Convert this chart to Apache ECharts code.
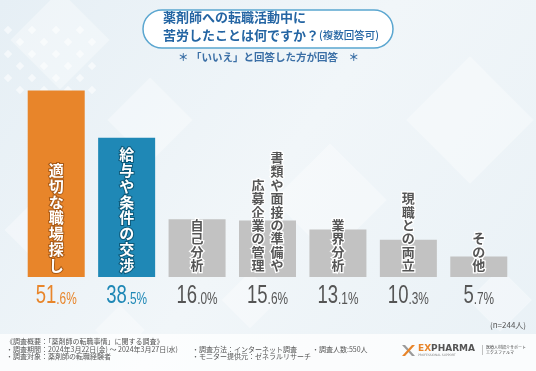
<!DOCTYPE html>
<html><head><meta charset="utf-8">
<script src="https://cdn.jsdelivr.net/npm/echarts@6/dist/echarts.min.js"></script>
<style>html,body{margin:0;padding:0;background:#eef3f7;}#c{width:536px;height:371px;}</style>
</head><body><div id="c"></div>
<script>
const categories = ['適切な職場探し','給与や条件の交渉','自己分析','書類や面接の準備や応募企業の管理','業界分析','現職との両立','その他'];
const labelColumns = [['適切な職場探し'],['給与や条件の交渉'],['自己分析'],['書類や面接の準備や','応募企業の管理'],['業界分析'],['現職との両立'],['その他']];
const values = [51.6,38.5,16.0,15.6,13.1,10.3,5.7];
const sampleSize = '(n=244人)';

const kinds = ['o','b','g','g','g','g','g'];
const barColor = {o:'#e8852a', b:'#1f88b6', g:'#c2c2c2'};
const textBorder = {o:'#a85a17', b:'#0d5878', g:'#ffffff'};
const valColor = {o:'#e8852a', b:'#1f88b6', g:'#555555'};

function vertical(cols){
  const n = Math.max(...cols.map(c=>c.length));
  const lines = [];
  for(let i=0;i<n;i++){
    const parts = [];
    for(let j=cols.length-1;j>=0;j--){
      const c = cols[j]; const idx = i-(n-c.length);
      parts.push(idx<0?'　':c[idx]);
    }
    lines.push(parts.join('  '));
  }
  return lines.join('\n');
}

const data = values.map((v,i)=>{
  const k = kinds[i];
  const big = k!=='g';
  return {
    value: v,
    itemStyle:{color: barColor[k]},
    label:{
      show:true, position:'insideBottom', distance: big?4:5,
      formatter: vertical(labelColumns[i]),
      color: k==='g'?'#555':'#fff',
      textBorderColor: textBorder[k], textBorderWidth: big?2:2.5,
      fontFamily:'Noto Sans CJK JP', fontWeight:'bold',
      fontSize: big?15:13, lineHeight: big?15.8:13.4
    }
  };
});

const numFont = "'Liberation Sans','Roboto',sans-serif";
function valueText(params, api){
  const i = params.dataIndex;
  const p = api.coord([i, 0]);
  const s = values[i].toFixed(1).split('.');
  const k = kinds[i];
  return {type:'text', x:p[0], y:p[1]+8, scaleX:0.74, silent:true,
    style:{text:'{B|'+s[0]+'}{S|.'+s[1]+'%}', align:'center', verticalAlign:'top',
      rich:{B:{fontFamily:numFont, fontSize:25, fill:valColor[k], verticalAlign:'bottom', lineHeight:24},
            S:{fontFamily:numFont, fontSize:16, fill:valColor[k], verticalAlign:'bottom', lineHeight:24, padding:[0,0,1,0]}}}};
}

const chart = echarts.init(document.getElementById('c'));
const deco = [];
deco.push({type:'rect', z:-10, shape:{x:0,y:0,width:536,height:371},
  style:{fill:new echarts.graphic.LinearGradient(0,0,1,1,[{offset:0,color:'#e6eff5'},{offset:0.5,color:'#f1f6f9'},{offset:1,color:'#e9f1f6'}])}});
[[60,40,70],[150,120,60],[330,200,80],[470,120,90],[40,230,50],[250,300,40],[500,300,45],[120,330,35]].forEach(d=>{
  deco.push({type:'rect', z:-9, x:d[0], y:d[1], rotation:Math.PI/4,
    shape:{x:-d[2]/2,y:-d[2]/2,width:d[2],height:d[2]}, style:{fill:'rgba(255,255,255,0.35)'}});
});
for(let r=0;r<6;r++)for(let c=0;c<8;c++){
  if((r+c)%2) continue;
  deco.push({type:'rect', z:-8, x:8+c*12, y:30+r*12, rotation:Math.PI/4,
    shape:{x:-3,y:-3,width:6,height:6}, style:{fill:'rgba(255,255,255,0.55)'}});
}
deco.push({type:'rect', z:-7, shape:{x:0,y:334,width:536,height:37}, style:{fill:'rgba(255,255,255,0.75)'}});
deco.push({type:'rect', shape:{x:143,y:10,width:250,height:38,r:19}, style:{fill:'#ffffff', stroke:'#5aa6d0', lineWidth:1.5}});
deco.push({type:'text', left:163, top:11, style:{text:'薬剤師への転職活動中に', fill:'#2465a3', font:'bold 13px "Noto Sans CJK JP"'}});
deco.push({type:'text', left:163, top:29, style:{text:'{a|苦労したことは何ですか？}{b|(複数回答可)}',
  rich:{a:{fill:'#2465a3', font:'bold 13px "Noto Sans CJK JP"'}, b:{fill:'#2465a3', font:'500 10.5px "Noto Sans CJK JP"'}}}});
deco.push({type:'text', left:178, top:52, style:{text:'＊ 「いいえ」と回答した方が回答　＊', fill:'#3b6fa6', font:'bold 10.5px "Noto Sans CJK JP"'}});
deco.push({type:'text', left:490, top:321, style:{text:sampleSize, fill:'#555', font:'8px "Noto Sans CJK JP"'}});
const fn = '7px "Noto Sans CJK JP"';
[['《調査概要：「薬剤師の転職事情」に関する調査》',6,338],
 ['・調査期間：2024年3月22日(金) ～ 2024年3月27日(水)',6,345.5],
 ['・調査方法：インターネット調査',192,345.5],
 ['・調査人数:550人',312,345.5],
 ['・調査対象：薬剤師の転職経験者',6,352.5],
 ['・モニター提供元：ゼネラルリサーチ',192,352.5]].forEach(t=>{
  deco.push({type:'text', left:t[1], top:t[2], style:{text:t[0], fill:'#555', font:fn}});
});
deco.push({type:'polygon', shape:{points:[[402,345],[405,345],[415,356],[412,356]]}, style:{fill:'#9a9a9a'}});
deco.push({type:'polygon', shape:{points:[[412,345],[415,345],[405,356],[402,356]]}, style:{fill:'#e8852a'}});
deco.push({type:'text', left:418, top:344, style:{text:'{o|EX}{g|PHARMA}', rich:{o:{fill:'#e8852a', font:'bold 9px "DejaVu Sans"'}, g:{fill:'#555', font:'bold 9px "DejaVu Sans"'}}}});
deco.push({type:'text', left:418, top:354, style:{text:'PROFESSIONAL SUPPORT', fill:'#888', font:'3px "DejaVu Sans"'}});
deco.push({type:'rect', shape:{x:482,y:345,width:0.6,height:10}, style:{fill:'#999'}});
deco.push({type:'text', left:486, top:345, style:{text:'医療人材紹介サポート\nエクスファルマ', fill:'#444', font:'4px "Noto Sans CJK JP"', lineHeight:5}});

chart.setOption({
  animation:false,
  backgroundColor:'transparent',
  grid:{left:21, right:22, top:60, bottom:94},
  xAxis:{type:'category', data:categories,
    axisLine:{show:false}, axisTick:{show:false}, axisLabel:{show:false}},
  yAxis:{type:'value', min:0, max:60, show:false, splitLine:{show:false}},
  graphic:deco,
  series:[
    {type:'bar', data:data, barWidth:57},
    {type:'custom', data:values.map((v,i)=>[i,v]), renderItem:valueText, z:5}
  ]
});
</script></body></html>
